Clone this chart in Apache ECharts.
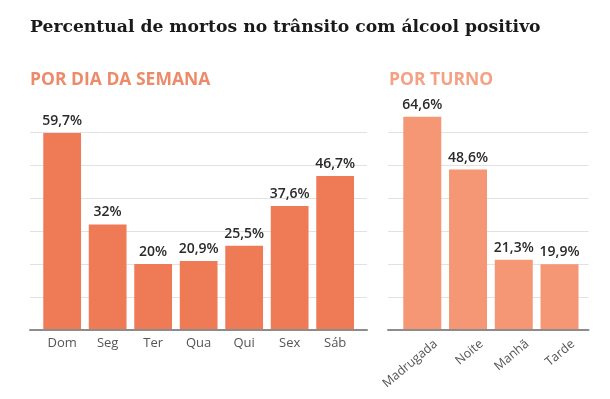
<!DOCTYPE html>
<html>
<head>
<meta charset="utf-8">
<script src="https://cdn.jsdelivr.net/npm/echarts@6/dist/echarts.min.js"></script>
<style>
html,body{margin:0;padding:0;background:#fff;}
#c{width:610px;height:399px;}
</style>
</head>
<body>
<div id="c"></div>
<script>
var diasCategorias = ['Dom', 'Seg', 'Ter', 'Qua', 'Qui', 'Sex', 'Sáb'];
var diasValores = [59.7, 32, 20, 20.9, 25.5, 37.6, 46.7];
var turnoCategorias = ['Madrugada', 'Noite', 'Manhã', 'Tarde'];
var turnoValores = [64.6, 48.6, 21.3, 19.9];
var yMax = 70;
var yStep = 10;

var chart = echarts.init(document.getElementById('c'), null, {renderer: 'canvas'});

function fmt(p) { return String(p.value).replace('.', ',') + '%'; }

var gridColors = ['rgba(0,0,0,0)', '#e2e2e2', '#e2e2e2', '#e2e2e2', '#e2e2e2', '#e2e2e2', '#e2e2e2', 'rgba(0,0,0,0)'];

function bgX(idx) {
  return {
    type: 'value', gridIndex: idx, min: 0, max: 1, z: 5,
    axisLine: {show: true, lineStyle: {color: '#8c8c8c', width: 2}},
    axisTick: {show: false}, axisLabel: {show: false}, splitLine: {show: false}
  };
}
function bgY(idx) {
  return {
    type: 'value', gridIndex: idx, min: 0, max: yMax, interval: yStep,
    axisLine: {show: false}, axisTick: {show: false}, axisLabel: {show: false},
    splitLine: {show: true, lineStyle: {color: gridColors, width: 1}}
  };
}
function barY(idx) {
  return {type: 'value', gridIndex: idx, min: 0, max: yMax, interval: yStep, show: false};
}

var option = {
  animation: false,
  backgroundColor: '#fff',
  title: [
    {text: 'Percentual de mortos no trânsito com álcool positivo', left: 30, top: 19, padding: 0,
     textStyle: {fontFamily: 'DejaVu Serif', fontWeight: 'bold', fontSize: 17.2, color: '#1a1a1a'}},
    {text: 'POR DIA DA SEMANA', left: 30, top: 71, padding: 0,
     textStyle: {fontFamily: 'Open Sans', fontWeight: 'bold', fontSize: 17.5, color: '#ed8a69'}},
    {text: 'POR TURNO', left: 389, top: 71, padding: 0,
     textStyle: {fontFamily: 'Open Sans', fontWeight: 'bold', fontSize: 17.5, color: '#f4a283'}}
  ],
  grid: [
    {left: 30, width: 337, top: 99, bottom: 69},
    {left: 388, width: 200.5, top: 99, bottom: 69},
    {left: 39.4, width: 318.5, top: 99, bottom: 69},
    {left: 399.4, width: 183, top: 99, bottom: 69}
  ],
  xAxis: [
    bgX(0), bgX(1),
    {type: 'category', gridIndex: 2, data: diasCategorias,
     axisLine: {show: false}, axisTick: {show: false},
     axisLabel: {color: '#555', fontSize: 13, fontFamily: 'Open Sans', margin: 7, interval: 0}},
    {type: 'category', gridIndex: 3, data: turnoCategorias,
     axisLine: {show: false}, axisTick: {show: false},
     axisLabel: {color: '#555', fontSize: 12.5, fontFamily: 'Open Sans', margin: 4, interval: 0,
                 rotate: 40, align: 'right', verticalAlign: 'top', padding: [8.5, -5, 0, 0]}}
  ],
  yAxis: [bgY(0), bgY(1), barY(2), barY(3)],
  series: [
    {type: 'bar', xAxisIndex: 2, yAxisIndex: 2, data: diasValores, barCategoryGap: '17%',
     itemStyle: {color: '#ef7b56'},
     label: {show: true, position: 'top', distance: 5, formatter: fmt,
             fontFamily: 'Open Sans', fontWeight: 600, fontSize: 14, color: '#2a2a2a'}},
    {type: 'bar', xAxisIndex: 3, yAxisIndex: 3, data: turnoValores, barCategoryGap: '17%',
     itemStyle: {color: '#f59674'},
     label: {show: true, position: 'top', distance: 5, formatter: fmt,
             fontFamily: 'Open Sans', fontWeight: 600, fontSize: 14, color: '#2a2a2a'}}
  ]
};
chart.setOption(option);
</script>
</body>
</html>
